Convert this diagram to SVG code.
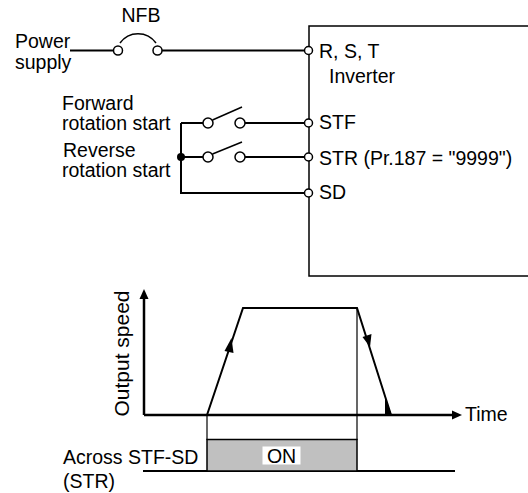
<svg xmlns="http://www.w3.org/2000/svg" width="528" height="493" viewBox="0 0 528 493">
<style>
text{font-family:"Liberation Sans",Arial,sans-serif;font-size:19.5px;fill:#000}
.w{fill:none;stroke:#000;stroke-width:2}
.t{fill:#fff;stroke:#000;stroke-width:1.5}
.thin{fill:none;stroke:#000;stroke-width:1.2}
.ax{fill:none;stroke:#000;stroke-width:2.5}
</style>
<rect width="528" height="493" fill="#fff"/>
<g id="connectors">
<line class="w" x1="70" y1="50.5" x2="113.5" y2="50.5"/>
<line class="w" x1="162" y1="50.5" x2="304.5" y2="50.5"/>
<path class="w" d="M181,123 L203,123 M245,123 L304.5,123"/>
<path class="w" d="M181,157 L203,157 M245,157 L304.5,157"/>
<path class="w" d="M181,123 L181,193 L304.5,193"/>
</g>
<g id="nfb">
<text x="141" y="22" text-anchor="middle">NFB</text>
<circle class="t" cx="118" cy="50.5" r="4.5"/>
<circle class="t" cx="157.5" cy="50.5" r="4.5"/>
<path d="M120,43 A22,22 0 0 1 156,43" fill="none" stroke="#000" stroke-width="1.5"/>
</g>
<g id="power">
<text x="15" y="48">Power</text>
<text x="15" y="68.5">supply</text>
</g>
<g id="fwd-switch">
<text x="62" y="110">Forward</text>
<text x="62" y="130">rotation start</text>
<circle class="t" cx="208" cy="123" r="5"/>
<circle class="t" cx="240" cy="123" r="5"/>
<line x1="212.5" y1="120" x2="242" y2="107" stroke="#000" stroke-width="1.5"/>
</g>
<g id="rev-switch">
<text x="63" y="156.5">Reverse</text>
<text x="62" y="177">rotation start</text>
<circle cx="181" cy="157" r="4"/>
<circle class="t" cx="208" cy="157" r="5"/>
<circle class="t" cx="240" cy="157" r="5"/>
<line x1="212.5" y1="154" x2="242" y2="142" stroke="#000" stroke-width="1.5"/>
</g>
<g id="inverter">
<rect x="309" y="26" width="230" height="250" fill="none" stroke="#000" stroke-width="1.5"/>
<circle class="t" cx="308.5" cy="50.5" r="4"/>
<circle class="t" cx="308.5" cy="123" r="4"/>
<circle class="t" cx="308.5" cy="157" r="4"/>
<circle class="t" cx="308.5" cy="193" r="4"/>
<text x="319" y="58">R, S, T</text>
<text x="329" y="82.5">Inverter</text>
<text x="319" y="128.5">STF</text>
<text x="319" y="165">STR (Pr.187 = "9999")</text>
<text x="319" y="199">SD</text>
</g>
<g id="chart">
<line class="ax" x1="144" y1="415" x2="144" y2="297"/>
<polygon points="144,289 139.5,299 148.5,299"/>
<line class="ax" x1="144" y1="415" x2="453" y2="415"/>
<polygon points="462,415 452,410.5 452,419.5"/>
<text transform="translate(128.5,353.5) rotate(-90)" text-anchor="middle" style="font-size:21px">Output speed</text>
<text x="465" y="421">Time</text>
<polyline class="w" points="207,415 243,308 357,308 391,415"/>
<polygon points="231.5,338 224.5,351 233.5,353"/>
<polygon points="370,347 362.5,337 371.5,334"/>
<polygon points="385,396 385,414.5 391.5,414.5"/>
<line class="thin" x1="207" y1="415" x2="207" y2="440"/>
<line class="thin" x1="357" y1="308" x2="357" y2="440"/>
</g>
<g id="signal">
<text x="63" y="464">Across STF-SD</text>
<text x="63" y="488">(STR)</text>
<line class="w" x1="143" y1="471" x2="455" y2="471"/>
<rect x="207" y="439.5" width="150" height="31.5" fill="#c0c0c0" stroke="#000" stroke-width="1.5"/>
<rect x="262.5" y="446.5" width="38" height="18" fill="#fff"/>
<text x="281.5" y="463" text-anchor="middle">ON</text>
</g>
</svg>
